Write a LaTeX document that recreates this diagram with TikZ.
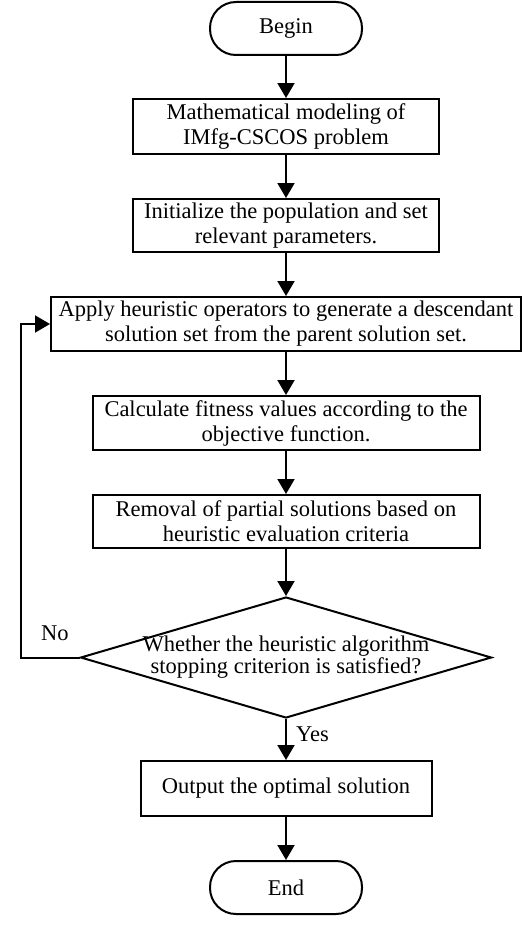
\documentclass[tikz,border=0pt]{standalone}
\usepackage{fontspec}
\setmainfont{Liberation Serif}
\usetikzlibrary{shapes.geometric,arrows.meta}
\begin{document}
\begin{tikzpicture}[x=1pt,y=-1pt,
  every node/.style={font=\fontsize{22.5}{25}\selectfont},
  proc/.style={draw,line width=2pt,align=center,inner sep=0pt},
  term/.style={draw,line width=2pt,rounded corners=26pt,minimum width=152pt,minimum height=53pt,inner sep=0pt},
  arr/.style={line width=2pt,-{Triangle[length=15pt,width=17pt]}},
  lbl/.style={inner sep=0pt}]
\useasboundingbox (0,0) rectangle (524,934);
\node[term] (begin) at (286,28.5) {Begin};
\node[proc,minimum width=306pt,minimum height=55pt] (b1) at (286,126.5) {Mathematical modeling of\\IMfg-CSCOS problem};
\node[proc,minimum width=306pt,minimum height=53pt] (b2) at (286,225.5) {Initialize the population and set\\relevant parameters.};
\node[proc,minimum width=470pt,minimum height=54pt] (b3) at (286,324) {Apply heuristic operators to generate a descendant\\solution set from the parent solution set.};
\node[proc,minimum width=387pt,minimum height=54pt] (b4) at (286,423) {Calculate fitness values according to the\\objective function.};
\node[proc,minimum width=387pt,minimum height=53pt] (b5) at (286,521.5) {Removal of partial solutions based on\\heuristic evaluation criteria};
\node[draw,diamond,line width=2pt,inner sep=0pt,aspect=3.4,minimum width=411pt,minimum height=121pt] (dec) at (286,657.5)
  {\makebox[0pt]{\begin{tabular}{@{}c@{}}Whether the heuristic algorithm\\[-0.35ex]stopping criterion is satisfied?\end{tabular}}};
\node[proc,minimum width=291pt,minimum height=55pt] (b6) at (286,788.5) {Output the optimal solution};
\node[term] (end) at (286,887.5) {End};
\coordinate (lp) at (21,657.5);
\draw[arr] (begin) -- (b1);
\draw[arr] (b1) -- (b2);
\draw[arr] (b2) -- (b3);
\draw[arr] (b3) -- (b4);
\draw[arr] (b4) -- (b5);
\draw[arr] (b5) -- (dec.north);
\draw[arr] (dec.south) -- (b6);
\draw[arr] (b6) -- (end);
\draw[arr] (dec.west) -- (lp) |- (b3.west);
\node[lbl,anchor=west] (no) at (41,633) {No};
\node[lbl,anchor=west] (yes) at (296,734) {Yes};
\end{tikzpicture}
\end{document}
